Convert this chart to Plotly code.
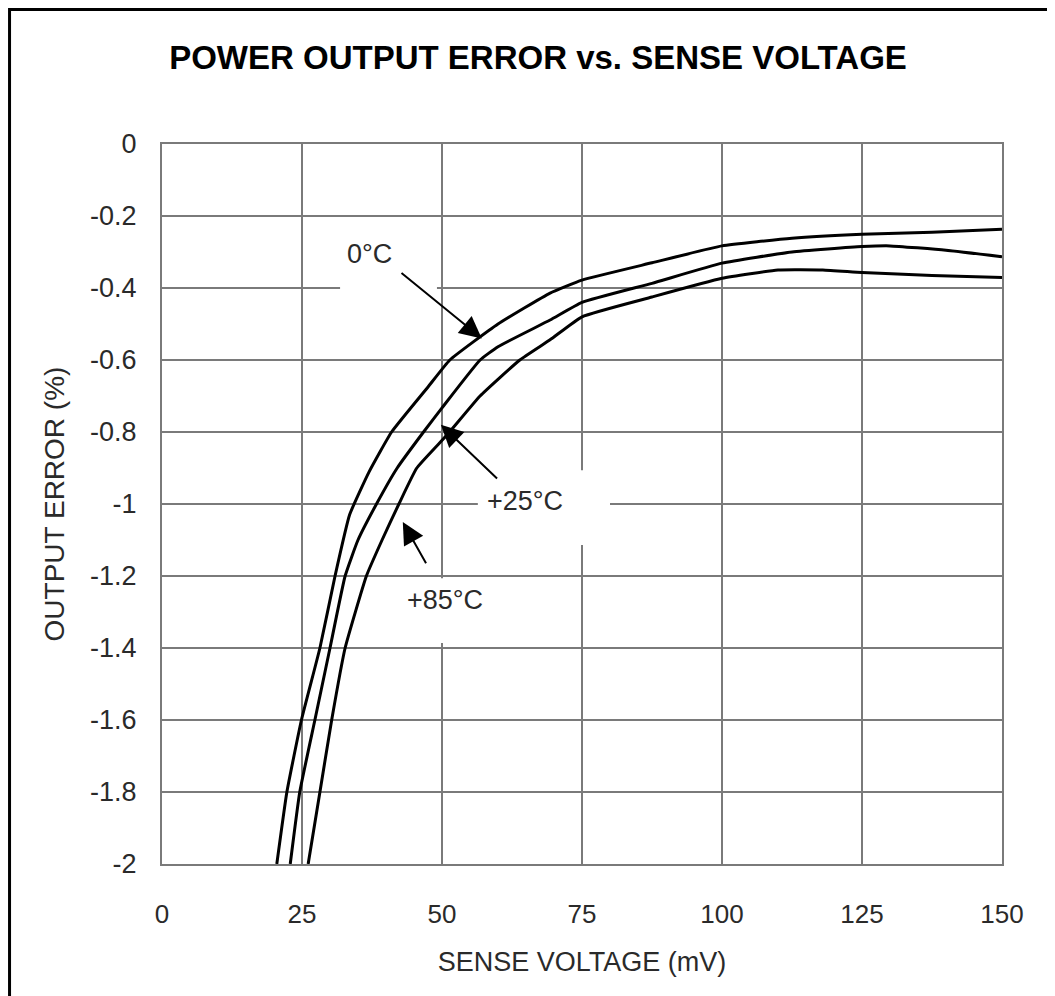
import plotly.graph_objects as go

# ---- data ----
t0_x = [20.5, 22.3, 24.9, 28.2, 30.9, 33.5, 37.0, 41.0, 47.5, 51.4, 60.0, 69.3, 75.0, 87.5, 100.0, 112.5, 125.0, 137.5, 150.0]
t0_y = [-2.0, -1.8, -1.6, -1.4, -1.2, -1.03, -0.91, -0.80, -0.675, -0.60, -0.50, -0.414, -0.378, -0.33, -0.283, -0.262, -0.251, -0.245, -0.237]

t25_x = [22.9, 24.6, 27.3, 30.0, 32.7, 35.0, 38.3, 42.0, 46.7, 50.0, 56.8, 60.0, 69.3, 75.0, 87.5, 100.0, 112.5, 125.0, 130.0, 140.0, 150.0]
t25_y = [-2.0, -1.8, -1.6, -1.4, -1.2, -1.10, -1.0, -0.90, -0.80, -0.733, -0.60, -0.563, -0.489, -0.44, -0.387, -0.331, -0.30, -0.285, -0.283, -0.295, -0.313]

t85_x = [26.1, 28.2, 30.3, 32.7, 36.5, 39.3, 42.3, 45.5, 50.8, 56.8, 63.9, 69.3, 75.0, 87.5, 100.0, 110.0, 118.0, 125.0, 137.5, 150.0]
t85_y = [-2.0, -1.8, -1.6, -1.4, -1.2, -1.10, -1.0, -0.90, -0.81, -0.70, -0.60, -0.544, -0.48, -0.425, -0.373, -0.35, -0.35, -0.357, -0.365, -0.371]

x_ticks = [0, 25, 50, 75, 100, 125, 150]
x_tick_text = ["0", "25", "50", "75", "100", "125", "150"]
y_ticks = [0, -0.2, -0.4, -0.6, -0.8, -1, -1.2, -1.4, -1.6, -1.8, -2]
y_tick_text = ["0", "-0.2", "-0.4", "-0.6", "-0.8", "-1", "-1.2", "-1.4", "-1.6", "-1.8", "-2"]

labels = ["0°C", "+25°C", "+85°C"]

FONT = "Liberation Sans, Arial, sans-serif"
GRID = "#7a7a7a"
TXT = "#2a2a2a"

fig = go.Figure()
for xs, ys, name in [(t0_x, t0_y, labels[0]), (t25_x, t25_y, labels[1]), (t85_x, t85_y, labels[2])]:
    fig.add_trace(go.Scatter(x=xs, y=ys, mode="lines", name=name,
                             line=dict(color="black", width=3, shape="spline", smoothing=0.4),
                             showlegend=False, hoverinfo="skip"))

# white boxes behind labels (break the grid like the original)
for x0, x1, y0, y1 in [(31.8, 49.1, -0.253, -0.433), (56.4, 80.0, -0.906, -1.114), (42.5, 58.6, -1.206, -1.386)]:
    fig.add_shape(type="rect", xref="x", yref="y", x0=x0, x1=x1, y0=y0, y1=y1,
                  fillcolor="white", line=dict(width=0), layer="between")

# outer frame
fig.add_shape(type="rect", xref="paper", yref="paper", x0=-0.1815, x1=1.0583, y0=-0.25, y1=1.1868,
              line=dict(color="black", width=3), fillcolor="rgba(0,0,0,0)", layer="above")

ann_font = dict(family=FONT, size=27, color=TXT)
# label texts
fig.add_annotation(x=37.0, y=-0.306, text=labels[0], showarrow=False, font=ann_font)
fig.add_annotation(x=64.8, y=-0.992, text=labels[1], showarrow=False, font=ann_font)
fig.add_annotation(x=50.5, y=-1.267, text=labels[2], showarrow=False, font=ann_font)
# arrows
for hx, hy, tx, ty in [(57.1, -0.54, 42.5, -0.355), (49.8, -0.78, 60.1, -0.933), (43.0, -1.05, 47.3, -1.169)]:
    fig.add_annotation(x=hx, y=hy, ax=tx, ay=ty, xref="x", yref="y", axref="x", ayref="y",
                       text="", showarrow=True, arrowhead=2, arrowsize=2.2, arrowwidth=2,
                       arrowcolor="black", standoff=0)

fig.update_layout(
    width=1055, height=996, autosize=False,
    margin=dict(l=154, r=61, t=136, b=140),
    paper_bgcolor="white", plot_bgcolor="white",
    title=dict(text="<b>POWER OUTPUT ERROR vs. SENSE VOLTAGE</b>", x=(538 - 8) / 1055, xref="container",
               xanchor="center", y=1 - 49 / 996, yanchor="middle", yref="container",
               font=dict(family=FONT, size=33, color="black")),
    font=dict(family=FONT, color=TXT),
)
fig.update_xaxes(range=[0, 150], tickvals=x_ticks, ticktext=x_tick_text,
                 showgrid=True, gridcolor=GRID, gridwidth=2,
                 showline=True, linecolor=GRID, linewidth=2, mirror=True,
                 zeroline=False, ticks="", ticklabelstandoff=26,
                 tickfont=dict(family=FONT, size=26, color=TXT),
                 title=dict(text="SENSE VOLTAGE (mV)", standoff=24,
                            font=dict(family=FONT, size=27, color=TXT)))
fig.update_yaxes(range=[-2, 0], tickvals=y_ticks, ticktext=y_tick_text,
                 showgrid=True, gridcolor=GRID, gridwidth=2,
                 showline=True, linecolor=GRID, linewidth=2, mirror=True,
                 zeroline=False, ticks="", ticklabelstandoff=18,
                 tickfont=dict(family=FONT, size=27, color=TXT),
                 title=dict(text="OUTPUT ERROR (%)", standoff=17,
                            font=dict(family=FONT, size=28, color=TXT)))

fig.write_html("out.html")
